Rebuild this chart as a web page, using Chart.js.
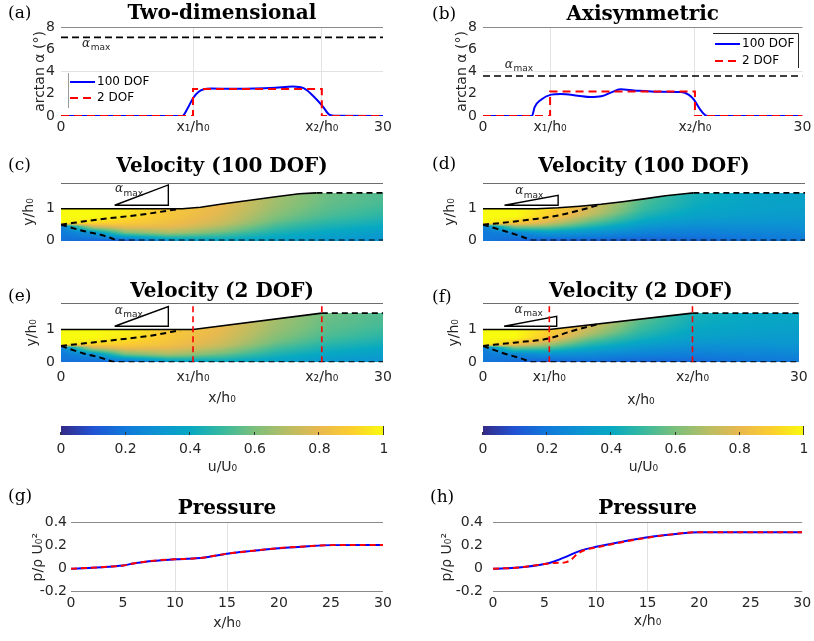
<!DOCTYPE html>
<html>
<head>
<meta charset="utf-8">
<title>Diffuser shape and flow fields</title>
<script src="https://cdn.jsdelivr.net/npm/chart.js@4.4.1/dist/chart.umd.min.js"></script>
<style>
  html, body { margin: 0; padding: 0; background: #ffffff; }
  #figure { position: relative; width: 814px; height: 641px; overflow: hidden; }
  #figure canvas { position: absolute; }
</style>
</head>
<body>
<div id="figure">
  <canvas id="panelA" width="407" height="140" style="left:0px;top:0px"></canvas>
  <canvas id="panelB" width="407" height="140" style="left:407px;top:0px"></canvas>
  <canvas id="panelC" width="407" height="115" style="left:0px;top:140px"></canvas>
  <canvas id="panelD" width="407" height="115" style="left:407px;top:140px"></canvas>
  <canvas id="panelE" width="407" height="148" style="left:0px;top:262px"></canvas>
  <canvas id="panelF" width="407" height="148" style="left:407px;top:262px"></canvas>
  <canvas id="barLeft" width="407" height="75" style="left:0px;top:410px"></canvas>
  <canvas id="barRight" width="407" height="75" style="left:407px;top:410px"></canvas>
  <canvas id="panelG" width="407" height="156" style="left:0px;top:485px"></canvas>
  <canvas id="panelH" width="407" height="156" style="left:407px;top:485px"></canvas>
</div>
<script>
// ---- wall angle, arctan(alpha) in degrees ----
const xTicks2D = [0, 12.3, 24.3, 30];
const xTicksAxi = [0, 6.3, 19.9, 30];
const xTickLabels = ["0", "x₁/h₀", "x₂/h₀", "30"];
const angleTicks = [0, 2, 4, 6, 8];
const alphaMax2D = 7.07;
const alphaMaxAxi = 3.59;

const aX100 = [0, 11.3, 11.8, 12.3, 12.8, 13.3, 14, 16, 18, 20, 21.6, 22.6, 23.5, 24.4, 25.0, 25.5, 30];
const aY100 = [0, 0, 0.7, 1.6, 2.15, 2.4, 2.47, 2.45, 2.47, 2.55, 2.65, 2.5, 1.8, 0.85, 0.12, 0.02, 0];
const aX2 = [0, 12.3, 12.3, 24.3, 24.3, 30];
const aY2 = [0, 0, 2.42, 2.42, 0, 0];

const bX100 = [0, 4.6, 4.85, 5.45, 6.4, 7.3, 8.9, 10.1, 11.1, 12.0, 12.9, 14.2, 16.1, 18.6, 19.3, 19.8, 20.4, 20.9, 21.4, 30];
const bY100 = [0, 0, 0.8, 1.47, 1.92, 1.98, 1.83, 1.7, 1.77, 2.1, 2.4, 2.3, 2.19, 2.16, 1.92, 1.47, 0.57, 0.06, 0, 0];
const bX2 = [0, 6.3, 6.3, 19.9, 19.9, 30];
const bY2 = [0, 0, 2.2, 2.2, 0, 0];

// ---- velocity fields: u/U0 at fieldX stations and fractions of local height ----
const velTicks = [0, 1, 1.8];
const fieldX = [0, 3, 6, 10, 15, 20, 25, 30];
const fieldEta = [0, 0.25, 0.45, 0.55, 0.75, 1];

const uC = [
  [0.18, 0.2, 0.22, 1, 1, 1],
  [0.15, 0.3, 0.75, 0.92, 1, 1],
  [0.12, 0.6, 0.82, 0.88, 0.95, 0.97],
  [0.3, 0.68, 0.8, 0.83, 0.86, 0.87],
  [0.37, 0.6, 0.72, 0.75, 0.78, 0.8],
  [0.35, 0.48, 0.58, 0.61, 0.65, 0.67],
  [0.32, 0.42, 0.5, 0.53, 0.56, 0.58],
  [0.3, 0.38, 0.45, 0.48, 0.52, 0.54]
];
const uD = [
  [0.2, 0.2, 0.22, 1, 1, 1],
  [0.15, 0.25, 0.65, 0.88, 1, 1],
  [0.12, 0.35, 0.62, 0.75, 0.9, 0.93],
  [0.13, 0.32, 0.5, 0.58, 0.72, 0.78],
  [0.13, 0.27, 0.38, 0.43, 0.5, 0.54],
  [0.15, 0.26, 0.34, 0.37, 0.41, 0.43],
  [0.18, 0.27, 0.33, 0.35, 0.37, 0.38],
  [0.2, 0.28, 0.32, 0.34, 0.36, 0.37]
];
const uE = [
  [0.18, 0.2, 0.22, 1, 1, 1],
  [0.15, 0.3, 0.75, 0.92, 1, 1],
  [0.12, 0.6, 0.83, 0.89, 0.96, 0.98],
  [0.3, 0.68, 0.8, 0.84, 0.87, 0.88],
  [0.37, 0.6, 0.72, 0.75, 0.78, 0.8],
  [0.35, 0.48, 0.58, 0.61, 0.65, 0.67],
  [0.32, 0.42, 0.5, 0.53, 0.56, 0.58],
  [0.3, 0.38, 0.45, 0.48, 0.52, 0.54]
];
const uF = [
  [0.2, 0.2, 0.22, 1, 1, 1],
  [0.15, 0.25, 0.6, 0.85, 1, 1],
  [0.12, 0.3, 0.55, 0.68, 0.88, 0.92],
  [0.15, 0.3, 0.45, 0.52, 0.68, 0.78],
  [0.14, 0.27, 0.38, 0.43, 0.5, 0.56],
  [0.15, 0.26, 0.34, 0.37, 0.41, 0.44],
  [0.18, 0.27, 0.33, 0.35, 0.38, 0.4],
  [0.2, 0.28, 0.33, 0.34, 0.37, 0.39]
];

// walls, shear-layer edges and alpha_max triangles
const cWallX = [0, 11.3, 13, 15, 17.6, 20, 22.2, 23.8, 30];
const cWallY = [1, 1, 1.05, 1.15, 1.27, 1.38, 1.47, 1.5, 1.5];
const cUpX = [0, 3.6, 7.35, 11.1];
const cUpY = [0.5, 0.67, 0.81, 1.0];
const cLowX = [0, 2.1, 3.6, 4.6, 5.3, 30];
const cLowY = [0.5, 0.3, 0.19, 0.09, 0, 0];
const cTriX = [5, 10, 10, 5];
const cTriY = [1.11, 1.75, 1.11, 1.11];

const dWallX = [0, 5, 7, 9, 11, 13, 15, 17, 19, 19.6, 30];
const dWallY = [1, 1, 1.03, 1.08, 1.14, 1.22, 1.31, 1.41, 1.48, 1.5, 1.5];
const dUpX = [0, 2.95, 5.1, 7.0, 9.2, 11.0];
const dUpY = [0.5, 0.6, 0.69, 0.79, 0.97, 1.14];
const dLowX = [0, 2.0, 3.6, 4.7, 30];
const dLowY = [0.5, 0.3, 0.13, 0, 0];
const dTriX = [2, 7, 7, 2];
const dTriY = [1.11, 1.42, 1.11, 1.11];

const eWallX = [0, 12.3, 24.3, 30];
const eWallY = [1, 1, 1.5, 1.5];
const eUpX = [0, 5, 8.5, 11.1];
const eUpY = [0.5, 0.68, 0.82, 0.98];
const eLowX = [0, 2.1, 3.6, 5.3, 30];
const eLowY = [0.5, 0.27, 0.15, 0, 0];
const eTriX = [5, 10, 10, 5];
const eTriY = [1.1, 1.7, 1.1, 1.1];

const fWallX = [0, 6.3, 19.9, 30];
const fWallY = [1, 1, 1.5, 1.5];
const fUpX = [0, 2.95, 6.3, 8.2, 11.0];
const fUpY = [0.5, 0.6, 0.73, 0.93, 1.17];
const fLowX = [0, 2.0, 3.6, 4.8, 30];
const fLowY = [0.5, 0.27, 0.12, 0, 0];
const fTriX = [2, 7, 7, 2];
const fTriY = [1.1, 1.4, 1.1, 1.1];

// ---- colour bar ----
const cbTicks = [0, 0.2, 0.4, 0.6, 0.8, 1];

// ---- wall pressure ----
const pTicksX = [0, 5, 10, 15, 20, 25, 30];
const pTicksY = [-0.2, 0, 0.2, 0.4];
const gX = [0, 2, 4, 5, 6, 7.5, 10, 12, 13, 15, 17.5, 20, 22.5, 25, 30];
const gP100 = [0, 0.008, 0.02, 0.028, 0.045, 0.065, 0.082, 0.09, 0.1, 0.13, 0.155, 0.178, 0.193, 0.205, 0.206];
const gP2 = [0, 0.008, 0.02, 0.027, 0.046, 0.066, 0.082, 0.09, 0.1, 0.13, 0.156, 0.179, 0.194, 0.205, 0.206];
const hX100 = [0, 2.5, 5, 6, 7, 8, 9, 10, 12.5, 15, 17.5, 20, 25, 30];
const hP100 = [0, 0.01, 0.04, 0.065, 0.1, 0.14, 0.17, 0.19, 0.235, 0.274, 0.3, 0.318, 0.318, 0.318];
const hX2 = [0, 2.5, 5, 6, 7, 7.6, 8.2, 9, 10, 12.5, 15, 17.5, 20, 25, 30];
const hP2 = [0, 0.01, 0.04, 0.05, 0.055, 0.08, 0.13, 0.165, 0.185, 0.23, 0.27, 0.3, 0.318, 0.318, 0.318];


const LIGHT = "#e2e2e2";
const EDGE = "#8a8a8a";
const TEXT = "#262626";
const VEL_YMAX = 1.8;
const PARULA = [[53, 42, 135], [32, 83, 212], [16, 121, 218], [12, 147, 210], [7, 169, 194],
  [56, 185, 158], [124, 191, 123], [183, 189, 100], [233, 185, 78], [252, 206, 46], [249, 251, 14]];

Chart.defaults.font.family = '"DejaVu Sans", sans-serif';
Chart.defaults.font.size = 14;
Chart.defaults.color = TEXT;

function pts(xs, ys) { return xs.map((x, i) => ({ x: x, y: ys[i] })); }

function interp1(xs, ys, v) {
  if (v <= xs[0]) return ys[0];
  for (let i = 1; i < xs.length; i++) {
    if (v <= xs[i]) {
      const t = (v - xs[i - 1]) / ((xs[i] - xs[i - 1]) || 1);
      return ys[i - 1] + t * (ys[i] - ys[i - 1]);
    }
  }
  return ys[ys.length - 1];
}

function parula(u) {
  const s = Math.max(0, Math.min(1, u)) * 10;
  const i = Math.min(9, Math.floor(s)), t = s - i;
  const a = PARULA[i], b = PARULA[i + 1];
  return "rgb(" + [0, 1, 2].map(k => Math.round(a[k] + t * (b[k] - a[k]))).join(",") + ")";
}

function line(xs, ys, color, extra) {
  return Object.assign({ data: pts(xs, ys), borderColor: color, borderWidth: 2, pointRadius: 0, fill: false, tension: 0 }, extra || {});
}

function fixedSize(size) {
  return scale => { if (scale.isHorizontal()) scale.height = size; else scale.width = size; };
}
function tickValues(values) {
  return scale => { scale.ticks = values.map(v => ({ value: v })); };
}
function gridAt(map) {
  return ctx => (ctx.tick && map[ctx.tick.value] !== undefined) ? map[ctx.tick.value] : "rgba(0,0,0,0)";
}

function baseOptions(o) {
  return {
    responsive: false,
    animation: false,
    devicePixelRatio: 1,
    layout: { padding: { left: o.padLeft || 0, right: o.padRight, top: o.padTop, bottom: o.padBottom || 0 } },
    plugins: {
      legend: { display: false },
      tooltip: { enabled: false },
      title: {
        display: true, text: o.title, fullSize: false, color: "#000",
        font: { family: '"DejaVu Serif", serif', size: 20, weight: "bold" },
        padding: { top: 0, bottom: o.titleGap }
      }
    },
    scales: { x: o.x, y: o.y }
  };
}

// text and decoration plugins
function panelLabel(text, x, y) {
  return {
    id: "panelLabel",
    afterDraw(chart) {
      const ctx = chart.ctx;
      ctx.save();
      ctx.font = '17px "DejaVu Serif"';
      ctx.fillStyle = "#000";
      ctx.textAlign = "left";
      ctx.textBaseline = "middle";
      ctx.fillText(text, x, y);
      ctx.restore();
    }
  };
}

function alphaMaxText(xv, yv) {
  return {
    id: "alphaMaxText",
    afterDatasetsDraw(chart) {
      const { ctx, scales: { x, y } } = chart;
      const px = x.getPixelForValue(xv), py = y.getPixelForValue(yv);
      ctx.save();
      ctx.fillStyle = TEXT;
      ctx.textAlign = "left";
      ctx.textBaseline = "middle";
      ctx.font = 'italic 12px "DejaVu Serif"';
      ctx.fillText("α", px, py);
      const w = ctx.measureText("α").width;
      ctx.font = '9px "DejaVu Sans"';
      ctx.fillText("max", px + w + 0.5, py + 4);
      ctx.restore();
    }
  };
}

function lineLegend(box) {
  return {
    id: "lineLegend",
    afterDatasetsDraw(chart) {
      const ctx = chart.ctx;
      ctx.save();
      ctx.strokeStyle = box.frameColor;
      ctx.lineWidth = 1;
      ctx.beginPath();
      box.frame.forEach((p, i) => (i ? ctx.lineTo(p[0], p[1]) : ctx.moveTo(p[0], p[1])));
      ctx.stroke();
      box.items.forEach(it => {
        const ds = chart.data.datasets[it.dataset];
        ctx.strokeStyle = ds.borderColor;
        ctx.lineWidth = 2;
        ctx.setLineDash(ds.borderDash || []);
        ctx.beginPath();
        ctx.moveTo(box.x0, it.y);
        ctx.lineTo(box.x1, it.y);
        ctx.stroke();
        ctx.setLineDash([]);
        ctx.fillStyle = "#000";
        ctx.font = '12px "DejaVu Sans"';
        ctx.textAlign = "left";
        ctx.textBaseline = "middle";
        ctx.fillText(ds.label, box.tx, it.y);
      });
      ctx.restore();
    }
  };
}

// paints u/U0 under the wall, one pixel at a time, through the chart's scales
function fieldPlugin(grid, wallX, wallY) {
  return {
    id: "velocityField",
    beforeDatasetsDraw(chart) {
      const { ctx, scales: { x, y } } = chart;
      const left = Math.round(x.getPixelForValue(0));
      const right = Math.round(x.getPixelForValue(30));
      const bottom = Math.round(y.getPixelForValue(0));
      ctx.save();
      for (let px = left; px < right; px++) {
        const xv = x.getValueForPixel(px + 0.5);
        const top = interp1(wallX, wallY, xv);
        const pTop = Math.round(y.getPixelForValue(top));
        for (let py = pTop; py < bottom; py++) {
          const eta = y.getValueForPixel(py + 0.5) / top;
          const atEta = grid.map(row => interp1(fieldEta, row, eta));
          ctx.fillStyle = parula(interp1(fieldX, atEta, xv));
          ctx.fillRect(px, py, 1, 1);
        }
      }
      ctx.restore();
    }
  };
}

const colorbarPaint = {
  id: "colorbarPaint",
  afterDraw(chart) {
    const { ctx, chartArea: a, scales: { x } } = chart;
    const g = ctx.createLinearGradient(x.getPixelForValue(0), 0, x.getPixelForValue(1), 0);
    PARULA.forEach((c, i) => g.addColorStop(i / 10, "rgb(" + c.join(",") + ")"));
    ctx.save();
    ctx.fillStyle = g;
    ctx.fillRect(a.left, a.top, a.right - a.left, a.bottom - a.top);
    ctx.strokeStyle = "#333";
    ctx.lineWidth = 1;
    cbTicks.forEach(v => {
      const px = Math.round(x.getPixelForValue(v)) - 0.5;
      ctx.beginPath();
      ctx.moveTo(px, a.bottom);
      ctx.lineTo(px, v === 1 ? a.top : a.bottom - 3);
      ctx.stroke();
    });
    ctx.restore();
  }
};

// ---- chart builders ----
function profileChart(id, p) {
  return new Chart(document.getElementById(id), {
    type: "line",
    data: {
      datasets: [
        line(p.x2, p.y2, "#ff0000", { label: "2 DOF", borderDash: [8, 5] }),
        line(p.x100, p.y100, "#0000ff", { label: "100 DOF", cubicInterpolationMode: "monotone" }),
        line([0, 30], [p.alphaMax, p.alphaMax], "#000000", { borderDash: [7, 4], borderWidth: 1.6 })
      ]
    },
    options: baseOptions({
      title: p.title, padTop: p.padTop, titleGap: p.titleGap, padRight: p.padRight,
      x: {
        type: "linear", min: 0, max: 30,
        afterBuildTicks: tickValues(p.ticks), afterFit: fixedSize(24),
        ticks: { autoSkip: false, maxRotation: 0, padding: 2.6, callback: (v, i) => xTickLabels[i] },
        grid: { color: gridAt({ [p.ticks[1]]: LIGHT, [p.ticks[2]]: LIGHT }), drawTicks: false },
        border: { display: false }
      },
      y: {
        min: 0, max: 8,
        afterBuildTicks: tickValues(angleTicks), afterFit: fixedSize(p.yWidth),
        ticks: { padding: 6 },
        grid: { color: gridAt({ 4: LIGHT, 8: EDGE }), drawTicks: false },
        border: { display: false },
        title: { display: true, text: "arctan α (°)", padding: { top: p.yTitlePad, bottom: 0 } }
      }
    }),
    plugins: [panelLabel(p.label, p.labelX, p.labelY), alphaMaxText(p.alphaAt[0], p.alphaAt[1]), lineLegend(p.legend)]
  });
}

function velocityChart(id, v) {
  const datasets = [];
  (v.marks || []).forEach(m => datasets.push(line([m, m], [0, VEL_YMAX], "#ff0000", { borderDash: [6, 4], borderWidth: 1.6 })));
  datasets.push(line(v.upX, v.upY, "#000", { borderDash: [6, 4], cubicInterpolationMode: "monotone" }));
  datasets.push(line(v.lowX, v.lowY, "#000", { borderDash: [6, 4], cubicInterpolationMode: "monotone" }));
  datasets.push(line(v.wallX, v.wallY, "#000", {
    borderWidth: 1.6,
    segment: { borderDash: ctx => (v.wallY[ctx.p0DataIndex] >= 1.5 && v.wallY[ctx.p1DataIndex] >= 1.5) ? [6, 4] : undefined }
  }));
  datasets.push(line(v.triX, v.triY, "#000", { borderWidth: 1.4 }));

  const xScale = v.showX ? {
    type: "linear", min: 0, max: 30,
    afterBuildTicks: tickValues(v.ticks), afterFit: fixedSize(v.xHeight),
    ticks: { autoSkip: false, maxRotation: 0, padding: 6.3, callback: (val, i) => xTickLabels[i] },
    grid: { display: false, drawTicks: false }, border: { display: false },
    title: { display: true, text: "x/h₀", padding: { top: 0, bottom: v.xTitlePad } }
  } : { type: "linear", min: 0, max: 30, display: false };

  return new Chart(document.getElementById(id), {
    type: "line",
    data: { datasets: datasets },
    options: baseOptions({
      title: v.title, padTop: v.padTop, titleGap: v.titleGap, padRight: v.padRight, padBottom: v.padBottom,
      x: xScale,
      y: {
        min: 0, max: VEL_YMAX,
        afterBuildTicks: tickValues(velTicks), afterFit: fixedSize(v.yWidth),
        ticks: { padding: 6, callback: val => (val === VEL_YMAX ? "" : String(val)) },
        grid: { color: gridAt({ [VEL_YMAX]: "#6e6e6e" }), drawTicks: false },
        border: { display: false },
        title: { display: true, text: "y/h₀", padding: { top: v.yTitlePad, bottom: 0 } }
      }
    }),
    plugins: [fieldPlugin(v.grid, v.wallX, v.wallY), panelLabel(v.label, v.labelX, v.labelY), alphaMaxText(v.alphaAt[0], v.alphaAt[1])]
  });
}

function colorbarChart(id, padLeft, padRight) {
  return new Chart(document.getElementById(id), {
    type: "scatter",
    data: { datasets: [] },
    options: {
      responsive: false, animation: false, devicePixelRatio: 1,
      layout: { padding: { left: padLeft, right: padRight, top: 16, bottom: 0 } },
      plugins: { legend: { display: false }, tooltip: { enabled: false } },
      scales: {
        x: {
          type: "linear", min: 0, max: 1,
          afterBuildTicks: tickValues(cbTicks), afterFit: fixedSize(50),
          ticks: { autoSkip: false, maxRotation: 0, padding: 5.6, callback: val => String(val) },
          grid: { display: false, drawTicks: false }, border: { display: false },
          title: { display: true, text: "u/U₀", padding: { top: 0, bottom: 9.6 } }
        },
        y: { display: false, min: 0, max: 1 }
      }
    },
    plugins: [colorbarPaint]
  });
}

function pressureChart(id, p) {
  return new Chart(document.getElementById(id), {
    type: "line",
    data: {
      datasets: [
        line(p.x2, p.p2, "#ff0000", { borderDash: [6, 4], cubicInterpolationMode: "monotone" }),
        line(p.x100, p.p100, "#0000ff", { cubicInterpolationMode: "monotone" })
      ]
    },
    options: baseOptions({
      title: "Pressure", padTop: 12, titleGap: 1.7, padRight: p.padRight,
      x: {
        type: "linear", min: 0, max: 30,
        afterBuildTicks: tickValues(pTicksX), afterFit: fixedSize(49.3),
        ticks: { autoSkip: false, maxRotation: 0, padding: 2.9 },
        grid: { color: gridAt({ 10: LIGHT, 15: LIGHT }), drawTicks: false },
        border: { display: false },
        title: { display: true, text: "x/h₀", padding: { top: 0, bottom: p.xTitlePad } }
      },
      y: {
        min: -0.2, max: 0.4,
        afterBuildTicks: tickValues(pTicksY), afterFit: fixedSize(p.yWidth),
        ticks: { padding: p.yTickPad, callback: val => String(val) },
        grid: { color: gridAt({ 0.4: EDGE, "-0.2": EDGE }), drawTicks: false },
        border: { display: false },
        title: { display: true, text: "p/ρ U₀²", padding: { top: p.yTitlePad, bottom: 0 } }
      }
    }),
    plugins: [panelLabel(p.label, p.labelX, p.labelY)]
  });
}

// ---- panels ----
profileChart("panelA", {
  title: "Two-dimensional", label: "(a)", labelX: 8, labelY: 14,
  padTop: 2, titleGap: 1, padRight: 24, yWidth: 61, yTitlePad: 31.6,
  ticks: xTicks2D, x100: aX100, y100: aY100, x2: aX2, y2: aY2,
  alphaMax: alphaMax2D, alphaAt: [1.96, 6.5],
  legend: { frame: [[68.5, 73], [68.5, 108]], frameColor: "#9a9a9a", x0: 70, x1: 95, tx: 97,
            items: [{ dataset: 1, y: 82 }, { dataset: 0, y: 98 }] }
});

profileChart("panelB", {
  title: "Axisymmetric", label: "(b)", labelX: 25, labelY: 15,
  padTop: 3, titleGap: 0, padRight: 10, yWidth: 76, yTitlePad: 46.6,
  ticks: xTicksAxi, x100: bX100, y100: bY100, x2: bX2, y2: bY2,
  alphaMax: alphaMaxAxi, alphaAt: [2.05, 4.6],
  legend: { frame: [[306, 33.5], [391.5, 33.5], [391.5, 68]], frameColor: "#262626", x0: 308, x1: 333, tx: 335,
            items: [{ dataset: 1, y: 44 }, { dataset: 0, y: 61 }] }
});

velocityChart("panelC", {
  title: "Velocity (100 DOF)", label: "(c)", labelX: 8, labelY: 26,
  padTop: 14.7, titleGap: 4.6, padRight: 24, padBottom: 7.7, yWidth: 61, yTitlePad: 20.6,
  grid: uC, wallX: cWallX, wallY: cWallY, upX: cUpX, upY: cUpY, lowX: cLowX, lowY: cLowY,
  triX: cTriX, triY: cTriY, alphaAt: [5.03, 1.61]
});

velocityChart("panelD", {
  title: "Velocity (100 DOF)", label: "(d)", labelX: 25, labelY: 25,
  padTop: 14.7, titleGap: 4.6, padRight: 9, padBottom: 7.7, yWidth: 76, yTitlePad: 34.6,
  grid: uD, wallX: dWallX, wallY: dWallY, upX: dUpX, upY: dUpY, lowX: dLowX, lowY: dLowY,
  triX: dTriX, triY: dTriY, alphaAt: [3.0, 1.55]
});

velocityChart("panelE", {
  title: "Velocity (2 DOF)", label: "(e)", labelX: 8, labelY: 34.7,
  padTop: 17.3, titleGap: 0, padRight: 24, yWidth: 61, yTitlePad: 23.6,
  showX: true, ticks: xTicks2D, xHeight: 47.7, xTitlePad: 3.6, marks: [xTicks2D[1], xTicks2D[2]],
  grid: uE, wallX: eWallX, wallY: eWallY, upX: eUpX, upY: eUpY, lowX: eLowX, lowY: eLowY,
  triX: eTriX, triY: eTriY, alphaAt: [5.0, 1.58]
});

velocityChart("panelF", {
  title: "Velocity (2 DOF)", label: "(f)", labelX: 25, labelY: 36,
  padTop: 17.3, titleGap: 0, padRight: 9, yWidth: 76, yTitlePad: 38.6,
  showX: true, ticks: xTicksAxi, xHeight: 47.7, xTitlePad: 1.6, marks: [xTicksAxi[1], xTicksAxi[2]],
  grid: uF, wallX: fWallX, wallY: fWallY, upX: fUpX, upY: fUpY, lowX: fLowX, lowY: fLowY,
  triX: fTriX, triY: fTriY, alphaAt: [3.0, 1.61]
});

colorbarChart("barLeft", 61, 23);
colorbarChart("barRight", 76, 8);

pressureChart("panelG", {
  label: "(g)", labelX: 8, labelY: 12, padRight: 24, yWidth: 71, yTickPad: 4, yTitlePad: 29.6, xTitlePad: 9.6,
  x100: gX, p100: gP100, x2: gX, p2: gP2
});

pressureChart("panelH", {
  label: "(h)", labelX: 23, labelY: 13, padRight: 10, yWidth: 86, yTickPad: 10, yTitlePad: 31.6, xTitlePad: 10.9,
  x100: hX100, p100: hP100, x2: hX2, p2: hP2
});
</script>
</body>
</html>
